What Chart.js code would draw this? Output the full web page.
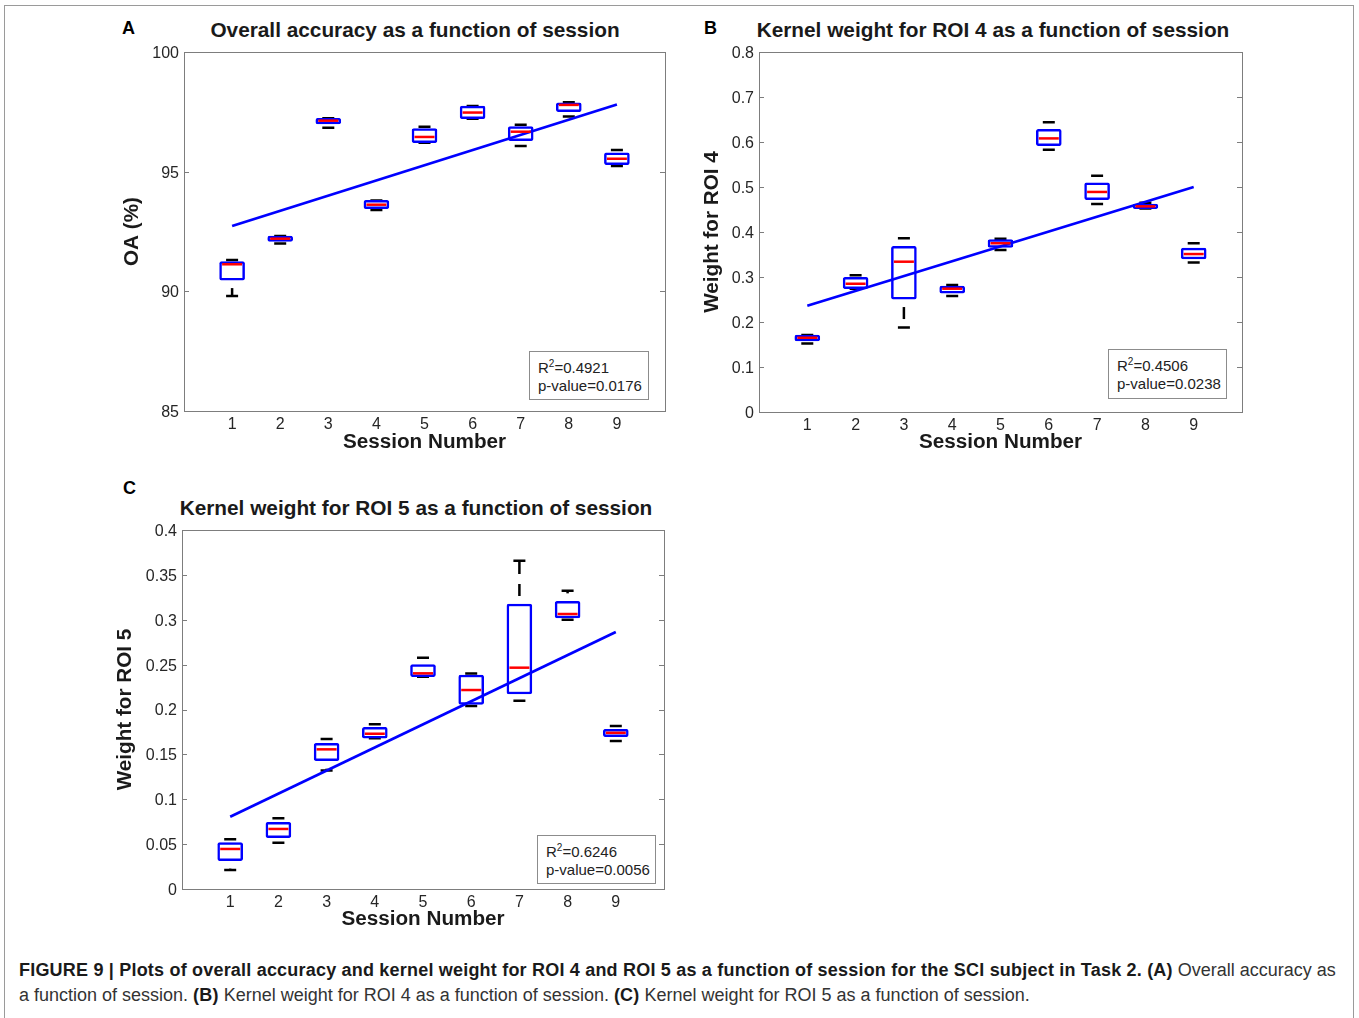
<!DOCTYPE html>
<html>
<head>
<meta charset="utf-8">
<script src="https://cdn.jsdelivr.net/npm/chart.js@4.4.1/dist/chart.umd.min.js"></script>
<style>
  body { margin: 0; background: #fff; font-family: "Liberation Sans", Arial, sans-serif; }
  #page { position: relative; width: 1359px; height: 1018px; overflow: hidden; }
  .frame { position: absolute; left: 4px; top: 5px; width: 1348px; height: 1100px; border: 1px solid #9a9a9a; }
  canvas { position: absolute; }
  .ptitle { position: absolute; width: 600px; text-align: center; font-weight: bold; font-size: 20.8px; line-height: 24px; color: #1a1a1a; white-space: nowrap; }
  .letter { position: absolute; font-weight: bold; font-size: 18px; line-height: 20px; color: #000; }
  .stat { position: absolute; box-sizing: border-box; background: #fff; border: 1px solid #8c8c8c; font-size: 15px; line-height: 18px; color: #222; padding: 7px 0 0 8px; white-space: nowrap; }
  .stat sup { font-size: 10px; line-height: 0; vertical-align: 6px; }
  .caption { position: absolute; left: 19px; top: 958px; font-size: 18px; line-height: 25px; color: #333; white-space: nowrap; }
  .caption b { color: #1a1a1a; letter-spacing: 0.2px; }
</style>
</head>
<body>
<div id="page">
  <div class="frame"></div>

  <div class="letter" style="left:122px;top:18px">A</div>
  <div class="letter" style="left:704px;top:18px">B</div>
  <div class="letter" style="left:123px;top:478px">C</div>

  <div class="ptitle" style="left:115px;top:18px">Overall accuracy as a function of session</div>
  <div class="ptitle" style="left:693px;top:18px">Kernel weight for ROI 4 as a function of session</div>
  <div class="ptitle" style="left:116px;top:496px">Kernel weight for ROI 5 as a function of session</div>

  <canvas id="chartA" width="580" height="433" style="left:100px;top:37px"></canvas>
  <canvas id="chartB" width="580" height="433" style="left:680px;top:37px"></canvas>
  <canvas id="chartC" width="580" height="433" style="left:100px;top:515px"></canvas>

  <div class="stat" style="left:529px;top:351px;width:120px;height:49px">R<sup>2</sup>=0.4921<br>p-value=0.0176</div>
  <div class="stat" style="left:1108px;top:349px;width:119px;height:50px">R<sup>2</sup>=0.4506<br>p-value=0.0238</div>
  <div class="stat" style="left:537px;top:835px;width:119px;height:49px">R<sup>2</sup>=0.6246<br>p-value=0.0056</div>

  <div class="caption"><b>FIGURE 9 | Plots of overall accuracy and kernel weight for ROI 4 and ROI 5 as a function of session for the SCI subject in Task 2. (A)</b> Overall accuracy as<br>a function of session. <b>(B)</b> Kernel weight for ROI 4 as a function of session. <b>(C)</b> Kernel weight for ROI 5 as a function of session.</div>
</div>

<script>
// session numbers on the x axis
const sessions = [1, 2, 3, 4, 5, 6, 7, 8, 9];

// (A) overall accuracy, %
const oaLow  = [89.80, 92.00, 96.84, 93.40, 96.21, 97.21, 96.07, 97.30, 95.24];
const oaQ1   = [90.47, 92.09, 96.99, 93.45, 96.21, 97.21, 96.30, 97.51, 95.29];
const oaMed  = [91.13, 92.20, 97.13, 93.62, 96.45, 97.47, 96.67, 97.79, 95.54];
const oaQ3   = [91.24, 92.31, 97.23, 93.80, 96.80, 97.74, 96.88, 97.88, 95.79];
const oaHigh = [91.31, 92.31, 97.23, 93.80, 96.88, 97.74, 96.96, 97.90, 95.91];
const oaFit  = [92.73, 97.81]; // fitted line at session 1 and 9
const oaTicks = [85, 90, 95, 100];

// (B) kernel weight for ROI 4
const r4Low  = [0.152, 0.274, 0.188, 0.258, 0.360, 0.583, 0.462, 0.452, 0.332];
const r4Q1   = [0.158, 0.274, 0.251, 0.264, 0.366, 0.592, 0.472, 0.452, 0.340];
const r4Med  = [0.165, 0.285, 0.334, 0.274, 0.375, 0.608, 0.489, 0.457, 0.351];
const r4Q3   = [0.171, 0.299, 0.368, 0.280, 0.383, 0.628, 0.509, 0.462, 0.364];
const r4High = [0.171, 0.304, 0.386, 0.282, 0.385, 0.644, 0.525, 0.465, 0.375];
const r4Fit  = [0.236, 0.500];
const r4Ticks = [0, 0.1, 0.2, 0.3, 0.4, 0.5, 0.6, 0.7, 0.8];

// (C) kernel weight for ROI 5
const r5Low  = [0.0212, 0.0516, 0.132, 0.168, 0.2366, 0.204, 0.2098, 0.300, 0.165];
const r5Q1   = [0.0316, 0.0572, 0.143, 0.168, 0.2366, 0.2057, 0.2173, 0.302, 0.1697];
const r5Med  = [0.0446, 0.0669, 0.1556, 0.173, 0.2403, 0.2217, 0.2466, 0.3064, 0.174];
const r5Q3   = [0.0516, 0.0743, 0.1623, 0.180, 0.250, 0.2384, 0.3175, 0.3205, 0.178];
const r5High = [0.0553, 0.0787, 0.167, 0.1835, 0.2577, 0.240, 0.3658, 0.3324, 0.1816];
const r5Fit  = [0.0806, 0.2863];
const r5Ticks = [0, 0.05, 0.1, 0.15, 0.2, 0.25, 0.3, 0.35, 0.4];

const BLUE = '#0000ff';
const RED = '#ff0000';
const BOX_W = 25;
const CAP_W = 12;

// whiskers under the boxes, medians over them, MATLAB style axes box on top
const boxPlugin = {
  id: 'boxWhiskers',
  beforeDatasetsDraw(chart) {
    const st = chart.data.datasets[0].stats;
    const xs = chart.scales.x, ys = chart.scales.y;
    const ctx = chart.ctx;
    ctx.save();
    ctx.strokeStyle = '#000';
    ctx.lineWidth = 2.5;
    sessions.forEach((s, i) => {
      const x = xs.getPixelForValue(s);
      const q1 = ys.getPixelForValue(st.q1[i]);
      const q3 = ys.getPixelForValue(st.q3[i]);
      const lo = ys.getPixelForValue(st.low[i]);
      const hi = ys.getPixelForValue(st.high[i]);
      // dashed whisker lines, going out from the box
      ctx.setLineDash([12, 10]);
      ctx.lineDashOffset = 14;
      ctx.beginPath(); ctx.moveTo(x, q1); ctx.lineTo(x, lo); ctx.stroke();
      ctx.beginPath(); ctx.moveTo(x, q3); ctx.lineTo(x, hi); ctx.stroke();
      ctx.setLineDash([]);
      // caps
      ctx.beginPath();
      ctx.moveTo(x - CAP_W / 2, lo); ctx.lineTo(x + CAP_W / 2, lo);
      ctx.moveTo(x - CAP_W / 2, hi); ctx.lineTo(x + CAP_W / 2, hi);
      ctx.stroke();
    });
    ctx.restore();
  },
  afterDatasetsDraw(chart) {
    const st = chart.data.datasets[0].stats;
    const xs = chart.scales.x, ys = chart.scales.y;
    const ctx = chart.ctx;
    ctx.save();
    ctx.strokeStyle = RED;
    ctx.lineWidth = 2.5;
    sessions.forEach((s, i) => {
      const x = xs.getPixelForValue(s);
      const m = ys.getPixelForValue(st.med[i]);
      ctx.beginPath();
      ctx.moveTo(x - BOX_W / 2 + 2.5, m);
      ctx.lineTo(x + BOX_W / 2 - 2.5, m);
      ctx.stroke();
    });
    ctx.restore();
  },
  afterDraw(chart) {
    const { left, right, top, bottom } = chart.chartArea;
    const ctx = chart.ctx;
    ctx.save();
    ctx.strokeStyle = '#7d7d7d';
    ctx.lineWidth = 1;
    ctx.strokeRect(Math.round(left) + 0.5, Math.round(top) + 0.5, Math.round(right - left), Math.round(bottom - top));
    ctx.beginPath();
    chart.scales.y.ticks.forEach(t => {
      const y = Math.round(chart.scales.y.getPixelForValue(t.value)) + 0.5;
      ctx.moveTo(left, y); ctx.lineTo(left + 5, y);
      ctx.moveTo(right - 5, y); ctx.lineTo(right, y);
    });
    ctx.stroke();
    ctx.restore();
  }
};

function makeChart(id, cfg) {
  const stats = { low: cfg.low, q1: cfg.q1, med: cfg.med, q3: cfg.q3, high: cfg.high };
  return new Chart(document.getElementById(id), {
    type: 'bar',
    data: {
      datasets: [
        {
          type: 'bar',
          data: sessions.map((s, i) => ({ x: s, y: [cfg.q1[i], cfg.q3[i]] })),
          stats: stats,
          backgroundColor: '#ffffff',
          borderColor: BLUE,
          borderWidth: 2.5,
          borderSkipped: false,
          borderRadius: 2,
          barThickness: BOX_W,
          order: 2
        },
        {
          type: 'line',
          data: [{ x: sessions[0], y: cfg.fit[0] }, { x: sessions[sessions.length - 1], y: cfg.fit[1] }],
          borderColor: BLUE,
          borderWidth: 2.7,
          pointRadius: 0,
          fill: false,
          order: 1
        }
      ]
    },
    options: {
      responsive: false,
      animation: false,
      devicePixelRatio: 1,
      layout: { padding: { top: 15, right: cfg.padRight, left: 0, bottom: 0 } },
      plugins: {
        legend: { display: false },
        tooltip: { enabled: false }
      },
      scales: {
        x: {
          type: 'linear',
          min: 0,
          max: 10,
          offset: false,
          grid: { display: false, drawTicks: false },
          border: { display: false },
          ticks: {
            stepSize: 1,
            padding: 4,
            maxRotation: 0,
            autoSkip: false,
            color: '#262626',
            font: { family: 'Liberation Sans', size: 16 },
            callback: (v) => sessions.includes(v) ? String(v) : ''
          },
          title: {
            display: true,
            text: 'Session Number',
            color: '#1a1a1a',
            font: { family: 'Liberation Sans', size: 20.7, weight: 'bold' },
            padding: { top: 0, bottom: cfg.xTitlePad }
          },
          afterFit: (s) => { s.height = cfg.xHeight; }
        },
        y: {
          type: 'linear',
          min: cfg.ticks[0],
          max: cfg.ticks[cfg.ticks.length - 1],
          grid: { display: false, drawTicks: false },
          border: { display: false },
          afterBuildTicks: (s) => { s.ticks = cfg.ticks.map(v => ({ value: v })); },
          ticks: {
            padding: 5,
            labelOffset: 1.5,
            autoSkip: false,
            color: '#262626',
            font: { family: 'Liberation Sans', size: 16, lineHeight: 1 },
            callback: (v) => String(+v.toFixed(2))
          },
          title: {
            display: true,
            text: cfg.yTitle,
            color: '#1a1a1a',
            font: { family: 'Liberation Sans', size: 20.7, weight: 'bold' },
            padding: { top: cfg.yTitlePad, bottom: 0 }
          },
          afterFit: (s) => { s.width = cfg.yWidth; }
        }
      }
    },
    plugins: [boxPlugin]
  });
}

makeChart('chartA', {
  low: oaLow, q1: oaQ1, med: oaMed, q3: oaQ3, high: oaHigh, fit: oaFit, ticks: oaTicks,
  yTitle: 'OA (%)', yWidth: 84, padRight: 15, xHeight: 59, xTitlePad: 15, yTitlePad: 19.4
});

makeChart('chartB', {
  low: r4Low, q1: r4Q1, med: r4Med, q3: r4Q3, high: r4High, fit: r4Fit, ticks: r4Ticks,
  yTitle: 'Weight for ROI 4', yWidth: 79, padRight: 18, xHeight: 58, xTitlePad: 15, yTitlePad: 19.8
});

makeChart('chartC', {
  low: r5Low, q1: r5Q1, med: r5Med, q3: r5Q3, high: r5High, fit: r5Fit, ticks: r5Ticks,
  yTitle: 'Weight for ROI 5', yWidth: 82, padRight: 16, xHeight: 59, xTitlePad: 16, yTitlePad: 12.4
});
</script>
</body>
</html>
